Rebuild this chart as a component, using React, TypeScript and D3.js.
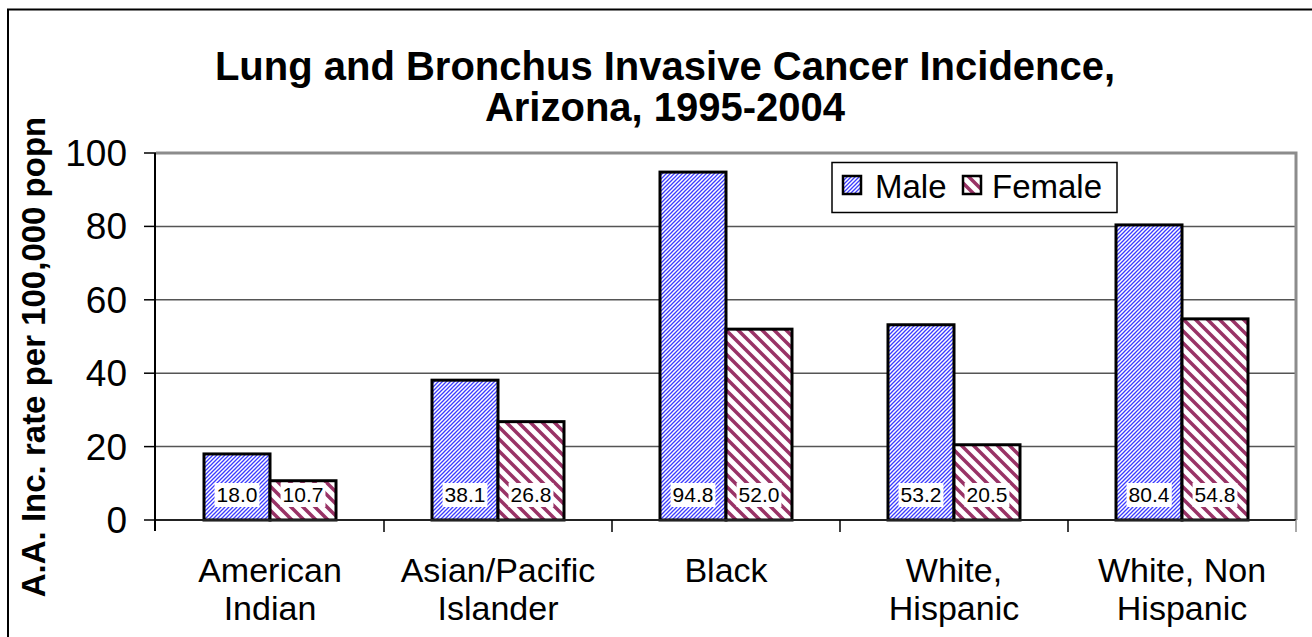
import React, { useEffect, useRef } from 'react';
import * as d3 from 'd3';

// Chart data
const categories = ['American Indian', 'Asian/Pacific Islander', 'Black', 'White, Hispanic', 'White, Non Hispanic'];
const categoryLines = [
  ['American', 'Indian'],
  ['Asian/Pacific', 'Islander'],
  ['Black'],
  ['White,', 'Hispanic'],
  ['White, Non', 'Hispanic'],
];
const maleValues = [18.0, 38.1, 94.8, 53.2, 80.4];
const femaleValues = [10.7, 26.8, 52.0, 20.5, 54.8];
const seriesNames = ['Male', 'Female'];
const yTicks = [0, 20, 40, 60, 80, 100];

const FONT = '"Liberation Sans", Arial, sans-serif';

const App = () => {
  const svgRef = useRef<SVGSVGElement>(null);

  useEffect(() => {
    const width = 1312;
    const height = 637;
    const plot = { left: 156, right: 1296, top: 153, bottom: 520 };

    const svg = d3.select(svgRef.current);
    svg.selectAll('*').remove();
    svg.attr('width', width).attr('height', height);

    // Hatch patterns
    const defs = svg.append('defs');
    const pm = defs.append('pattern')
      .attr('id', 'hatch-male')
      .attr('patternUnits', 'userSpaceOnUse')
      .attr('width', 4).attr('height', 4);
    pm.append('rect').attr('width', 4).attr('height', 4).attr('fill', '#fff');
    pm.append('path')
      .attr('d', 'M-1,1 l2,-2 M0,4 l4,-4 M3,5 l2,-2')
      .attr('stroke', '#3c3cff').attr('stroke-width', 1.3);

    const pf = defs.append('pattern')
      .attr('id', 'hatch-female')
      .attr('patternUnits', 'userSpaceOnUse')
      .attr('width', 12).attr('height', 12);
    pf.append('rect').attr('width', 12).attr('height', 12).attr('fill', '#fff');
    pf.append('path')
      .attr('d', 'M-3,9 l6,6 M0,0 l12,12 M9,-3 l6,6')
      .attr('stroke', '#993366').attr('stroke-width', 3.5);

    const fills = ['url(#hatch-male)', 'url(#hatch-female)'];

    // Outer chart border
    svg.append('rect')
      .attr('x', 8).attr('y', 9.5)
      .attr('width', width + 20).attr('height', height + 20)
      .attr('fill', '#fff').attr('stroke', '#000').attr('stroke-width', 2);

    // Scales
    const x = d3.scaleBand<string>()
      .domain(categories)
      .range([plot.left, plot.right])
      .paddingInner(0).paddingOuter(0);

    const x1 = d3.scaleBand<string>()
      .domain(seriesNames)
      .range([48, x.bandwidth() - 48]);

    const y = d3.scaleLinear()
      .domain([0, 100])
      .range([plot.bottom, plot.top]);

    // Gridlines
    svg.append('g')
      .selectAll('line')
      .data(yTicks.filter(d => d > 0 && d < 100))
      .enter()
      .append('line')
      .attr('x1', plot.left).attr('x2', plot.right)
      .attr('y1', d => y(d)).attr('y2', d => y(d))
      .attr('stroke', '#555').attr('stroke-width', 1.5);

    // Plot area border (gray)
    svg.append('path')
      .attr('d', `M${plot.left},${plot.top} H${plot.right} V${plot.bottom}`)
      .attr('fill', 'none')
      .attr('stroke', '#8c8c8c').attr('stroke-width', 3);

    // Bars
    const data = categories.map((c, i) => ({ c, vals: [maleValues[i], femaleValues[i]] }));
    const groups = svg.append('g')
      .selectAll('g')
      .data(data)
      .enter()
      .append('g')
      .attr('transform', d => `translate(${x(d.c)},0)`);

    groups.selectAll('rect')
      .data(d => d.vals.map((v, j) => ({ key: seriesNames[j], v, j })))
      .enter()
      .append('rect')
      .attr('x', d => x1(d.key)!)
      .attr('y', d => y(d.v))
      .attr('width', x1.bandwidth())
      .attr('height', d => y(0) - y(d.v))
      .attr('fill', d => fills[d.j])
      .attr('stroke', '#000').attr('stroke-width', 3);

    // Data labels with white boxes
    groups.each(function (d) {
      const g = d3.select(this);
      d.vals.forEach((v, j) => {
        const cx = x1(seriesNames[j])! + x1.bandwidth() / 2;
        const label = v.toFixed(1);
        const t = g.append('text')
          .attr('x', cx).attr('y', 502)
          .attr('text-anchor', 'middle')
          .attr('font-family', FONT).attr('font-size', 21)
          .attr('fill', '#000')
          .text(label);
        const bb = (t.node() as SVGTextElement).getBBox();
        g.insert('rect', () => t.node())
          .attr('x', bb.x - 2).attr('y', bb.y)
          .attr('width', bb.width + 4).attr('height', bb.height + 1)
          .attr('fill', '#fff');
      });
    });

    // Y axis
    svg.append('line')
      .attr('x1', plot.left - 1).attr('x2', plot.left - 1)
      .attr('y1', plot.top).attr('y2', plot.bottom + 11)
      .attr('stroke', '#000').attr('stroke-width', 2);
    const yAxis = svg.append('g');
    yAxis.selectAll('line')
      .data(yTicks)
      .enter()
      .append('line')
      .attr('x1', plot.left - 12).attr('x2', plot.left)
      .attr('y1', d => y(d)).attr('y2', d => y(d))
      .attr('stroke', '#000').attr('stroke-width', 1.5);
    yAxis.selectAll('text')
      .data(yTicks)
      .enter()
      .append('text')
      .attr('x', 127)
      .attr('y', d => y(d) + 13)
      .attr('text-anchor', 'end')
      .attr('font-family', FONT).attr('font-size', 37)
      .attr('fill', '#000')
      .text(d => d);

    // X axis
    svg.append('line')
      .attr('x1', plot.left).attr('x2', plot.right)
      .attr('y1', plot.bottom).attr('y2', plot.bottom)
      .attr('stroke', '#222').attr('stroke-width', 2);
    const bounds = categories.map(c => x(c)!).concat([plot.right]);
    svg.append('g')
      .selectAll('line')
      .data(bounds.slice(1))
      .enter()
      .append('line')
      .attr('x1', d => d).attr('x2', d => d)
      .attr('y1', plot.bottom).attr('y2', plot.bottom + 12)
      .attr('stroke', (d, i) => (i === bounds.length - 2 ? '#8c8c8c' : '#000'))
      .attr('stroke-width', 1.5);

    // Category labels
    categories.forEach((c, i) => {
      const t = svg.append('text')
        .attr('text-anchor', 'middle')
        .attr('font-family', FONT).attr('font-size', 34)
        .attr('fill', '#000');
      categoryLines[i].forEach((line, k) => {
        t.append('tspan')
          .attr('x', x(c)! + x.bandwidth() / 2)
          .attr('y', 582 + k * 38)
          .text(line);
      });
    });

    // Y axis title
    svg.append('text')
      .attr('transform', 'translate(45,357) rotate(-90)')
      .attr('text-anchor', 'middle')
      .attr('font-family', FONT).attr('font-size', 33).attr('font-weight', 'bold')
      .attr('fill', '#000')
      .text('A.A. Inc. rate per 100,000 popn');

    // Title
    const title = svg.append('text')
      .attr('text-anchor', 'middle')
      .attr('font-family', FONT).attr('font-size', 40).attr('font-weight', 'bold')
      .attr('fill', '#000');
    title.append('tspan').attr('x', 665).attr('y', 80).text('Lung and Bronchus Invasive Cancer Incidence,');
    title.append('tspan').attr('x', 665).attr('y', 121).text('Arizona, 1995-2004');

    // Legend
    const legend = svg.append('g');
    legend.append('rect')
      .attr('x', 832).attr('y', 162.5)
      .attr('width', 285).attr('height', 50)
      .attr('fill', '#fff').attr('stroke', '#000').attr('stroke-width', 1.5);
    const legendItems = [
      { name: seriesNames[0], sx: 843, tx: 875 },
      { name: seriesNames[1], sx: 963, tx: 992 },
    ];
    legendItems.forEach((it, j) => {
      legend.append('rect')
        .attr('x', it.sx).attr('y', 176)
        .attr('width', 18).attr('height', 18)
        .attr('fill', fills[j]).attr('stroke', '#000').attr('stroke-width', 2.5);
      legend.append('text')
        .attr('x', it.tx).attr('y', 198)
        .attr('font-family', FONT).attr('font-size', 33)
        .attr('fill', '#000')
        .text(it.name);
    });
  }, []);

  return (
    <div style={{ position: 'absolute', left: 0, top: 0, width: 1312, height: 637, overflow: 'hidden', background: '#fff' }}>
      <svg ref={svgRef} style={{ display: 'block' }}></svg>
    </div>
  );
};

export default App;
